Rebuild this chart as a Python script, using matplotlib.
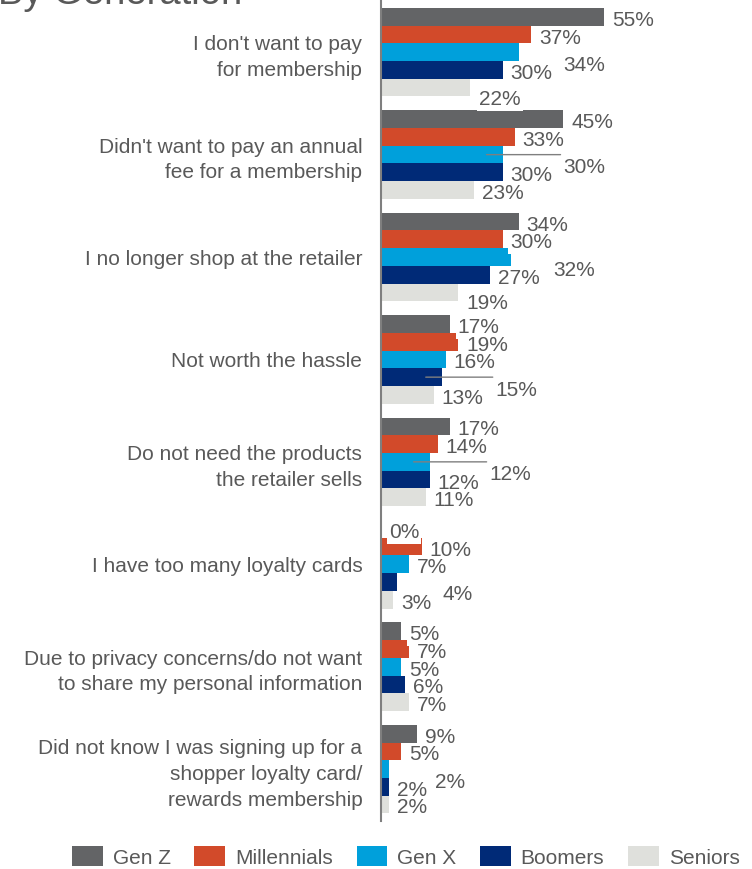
import matplotlib.pyplot as plt
from matplotlib.transforms import offset_copy

plt.rcParams['font.family'] = ['Liberation Sans', 'DejaVu Sans']

# Datos
categorias = [
    "I don't want to pay\nfor membership",
    "Didn't want to pay an annual\nfee for a membership",
    "I no longer shop at the retailer",
    "Not worth the hassle",
    "Do not need the products\nthe retailer sells",
    "I have too many loyalty cards",
    "Due to privacy concerns/do not want\nto share my personal information",
    "Did not know I was signing up for a\nshopper loyalty card/\nrewards membership",
]
generaciones = ['Gen Z', 'Millennials', 'Gen X', 'Boomers', 'Seniors']
gen_z = [55, 45, 34, 17, 17, 0, 5, 9]
millennials = [37, 33, 30, 19, 14, 10, 7, 5]
gen_x = [34, 30, 32, 16, 12, 7, 5, 2]
boomers = [30, 30, 27, 15, 12, 4, 6, 2]
seniors = [22, 23, 19, 13, 11, 3, 7, 2]
series = [gen_z, millennials, gen_x, boomers, seniors]

colores = ['#636466', '#d24a2a', '#00a0db', '#002a77', '#dfe0dc']
gris_texto = '#595959'

# Desplazamiento de etiquetas (pixeles): por defecto al final de la barra,
# algunas movidas a un lado, con linea guia
desp_defecto = (8, 1.5)
desp_especial = {
    (0, 2): (45, 11), (0, 4): (9, 9.5),
    (1, 2): (61, 10.5),
    (2, 2): (43, 11), (2, 4): (8, 9.5),
    (3, 3): (54, 11),
    (4, 2): (60, 11),
    (5, 3): (45, 11),
    (7, 2): (46, 11),
}
con_guia = [(1, 2), (3, 3), (4, 2)]

fig = plt.figure(figsize=(7.52, 8.69), dpi=100)
ax = fig.add_axes([381 / 752, 48 / 869, 371 / 752, 821 / 869])

alto = 17.7 / 102.4
barras = []
for s, valores in enumerate(series):
    ys = [g + (s - 2) * alto for g in range(len(categorias))]
    b = ax.barh(ys, valores, height=alto, color=colores[s], label=generaciones[s], zorder=2)
    barras.append(b)

ax.set_xlim(0, 371 / 4.05)
ax.set_ylim(7.507, -0.510)

# Etiquetas de valor
for g in range(len(categorias)):
    for s, valores in enumerate(series):
        v = valores[g]
        y = g + (s - 2) * alto
        dx, dy = desp_especial.get((g, s), desp_defecto)
        if (g, s) in con_guia:
            inicio = offset_copy(ax.transData, fig=fig, x=-16, y=0, units='dots')
            ax.annotate('', xy=(v, y), xycoords=inicio,
                        xytext=(dx + 16 - 3, 0), textcoords='offset pixels',
                        arrowprops=dict(arrowstyle='-', color='#7f7f7f', lw=1.0,
                                        shrinkA=0, shrinkB=0), zorder=2.5)
        ax.annotate(f'{v}%', xy=(v, y), xytext=(dx, -(dy + 2)),
                    textcoords='offset pixels', ha='left', va='center',
                    fontsize=15, color=gris_texto, zorder=3,
                    bbox=dict(boxstyle='square,pad=0.1', fc='white', ec='none'))

ax.set_yticks(range(len(categorias)))
ax.set_yticklabels(categorias, fontsize=15, color=gris_texto)
for t in ax.get_yticklabels():
    t.set_linespacing(1.45)
ax.tick_params(axis='y', length=0, pad=13.5)
ax.set_xticks([])
for lado in ['top', 'right', 'bottom']:
    ax.spines[lado].set_visible(False)
ax.spines['left'].set_color('#7f7f7f')
ax.spines['left'].set_linewidth(1.5)
ax.spines['left'].set_zorder(4)

fig.text(-2 / 752, 1 - 4 / 869, 'By Generation', fontsize=27.5, color=gris_texto,
         ha='left', va='baseline')

fig.legend(handles=barras, labels=generaciones, loc='center left',
           bbox_to_anchor=(72 / 752, 1 - 857 / 869), ncol=5, frameon=False,
           fontsize=15, handlelength=1.47, handleheight=1.1,
           handletextpad=0.48, columnspacing=1.14, borderpad=0,
           borderaxespad=0, labelcolor=gris_texto)

fig.savefig('out.png', dpi=100)
